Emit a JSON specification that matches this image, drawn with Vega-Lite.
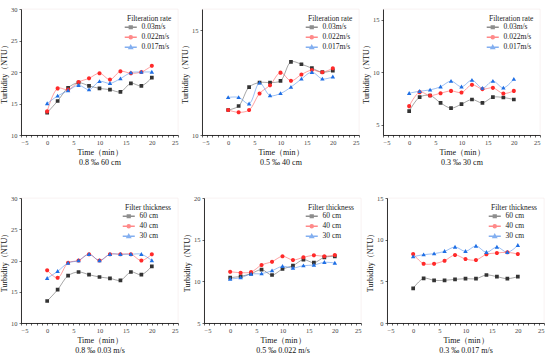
{
"$schema":"https://vega.github.io/schema/vega-lite/v6.json",
"padding":{"left":0,"top":5,"right":0,"bottom":0},
"background":"white",
"config":{
 "view":{"stroke":"#f3e8e8","strokeWidth":0.6},
 "font":"Liberation Serif",
 "axis":{"domainColor":"#000","domainWidth":0.8,"tickColor":"#000","tickWidth":0.6,"tickSize":2,"grid":false,"labelFont":"Liberation Serif","titleFont":"Liberation Serif","labelFontSize":6.5,"labelColor":"#444","titleFontSize":8,"titleFontWeight":"normal","titleColor":"#111","labelPadding":2},
 "axisX":{"titleLineHeight":10,"titlePadding":3},
 "axisY":{"titlePadding":2},
 "legend":{"orient":"top-right","offset":6,"titleFont":"Liberation Serif","labelFont":"Liberation Serif","titleFontSize":7.5,"titleFontWeight":"normal","labelFontSize":7.5,"labelColor":"#222","titleColor":"#222","symbolSize":30,"rowPadding":0,"labelOffset":7,"titlePadding":1,"padding":0}
},
"datasets":{
"p1":[
{"t":0,"s":"0.03m/s","v":13.55},{"t":2,"s":"0.03m/s","v":15.4},{"t":4,"s":"0.03m/s","v":17.5},{"t":6,"s":"0.03m/s","v":18.3},{"t":8,"s":"0.03m/s","v":17.8},{"t":10,"s":"0.03m/s","v":17.4},{"t":12,"s":"0.03m/s","v":17.2},{"t":14,"s":"0.03m/s","v":16.85},{"t":16,"s":"0.03m/s","v":18.2},{"t":18,"s":"0.03m/s","v":17.8},{"t":20,"s":"0.03m/s","v":19.1},
{"t":0,"s":"0.022m/s","v":13.75},{"t":2,"s":"0.022m/s","v":17.4},{"t":4,"s":"0.022m/s","v":17.2},{"t":6,"s":"0.022m/s","v":18.4},{"t":8,"s":"0.022m/s","v":19.0},{"t":10,"s":"0.022m/s","v":19.8},{"t":12,"s":"0.022m/s","v":18.8},{"t":14,"s":"0.022m/s","v":20.1},{"t":16,"s":"0.022m/s","v":19.8},{"t":18,"s":"0.022m/s","v":20.0},{"t":20,"s":"0.022m/s","v":21.0},
{"t":0,"s":"0.017m/s","v":15.0},{"t":2,"s":"0.017m/s","v":16.2},{"t":4,"s":"0.017m/s","v":17.05},{"t":6,"s":"0.017m/s","v":17.9},{"t":8,"s":"0.017m/s","v":17.2},{"t":10,"s":"0.017m/s","v":18.5},{"t":12,"s":"0.017m/s","v":18.2},{"t":14,"s":"0.017m/s","v":18.95},{"t":16,"s":"0.017m/s","v":19.9},{"t":18,"s":"0.017m/s","v":20.0},{"t":20,"s":"0.017m/s","v":20.0}
],
"p2":[
{"t":0,"s":"0.03m/s","v":11.19},{"t":2,"s":"0.03m/s","v":11.38},{"t":4,"s":"0.03m/s","v":12.28},{"t":6,"s":"0.03m/s","v":12.5},{"t":8,"s":"0.03m/s","v":12.5},{"t":10,"s":"0.03m/s","v":12.58},{"t":12,"s":"0.03m/s","v":13.48},{"t":14,"s":"0.03m/s","v":13.37},{"t":16,"s":"0.03m/s","v":13.18},{"t":18,"s":"0.03m/s","v":12.99},{"t":20,"s":"0.03m/s","v":13.07},
{"t":0,"s":"0.022m/s","v":11.19},{"t":2,"s":"0.022m/s","v":11.08},{"t":4,"s":"0.022m/s","v":11.19},{"t":6,"s":"0.022m/s","v":11.98},{"t":8,"s":"0.022m/s","v":12.37},{"t":10,"s":"0.022m/s","v":12.97},{"t":12,"s":"0.022m/s","v":12.58},{"t":14,"s":"0.022m/s","v":12.88},{"t":16,"s":"0.022m/s","v":13.09},{"t":18,"s":"0.022m/s","v":12.99},{"t":20,"s":"0.022m/s","v":13.18},
{"t":0,"s":"0.017m/s","v":11.79},{"t":2,"s":"0.017m/s","v":11.79},{"t":4,"s":"0.017m/s","v":11.49},{"t":6,"s":"0.017m/s","v":12.48},{"t":8,"s":"0.017m/s","v":11.88},{"t":10,"s":"0.017m/s","v":11.98},{"t":12,"s":"0.017m/s","v":12.28},{"t":14,"s":"0.017m/s","v":12.67},{"t":16,"s":"0.017m/s","v":12.99},{"t":18,"s":"0.017m/s","v":12.67},{"t":20,"s":"0.017m/s","v":12.77}
],
"p3":[
{"t":0,"s":"0.03m/s","v":6.27},{"t":2,"s":"0.03m/s","v":7.6},{"t":4,"s":"0.03m/s","v":7.76},{"t":6,"s":"0.03m/s","v":7.06},{"t":8,"s":"0.03m/s","v":6.56},{"t":10,"s":"0.03m/s","v":6.94},{"t":12,"s":"0.03m/s","v":7.38},{"t":14,"s":"0.03m/s","v":7.06},{"t":16,"s":"0.03m/s","v":7.6},{"t":18,"s":"0.03m/s","v":7.57},{"t":20,"s":"0.03m/s","v":7.38},
{"t":0,"s":"0.022m/s","v":6.75},{"t":2,"s":"0.022m/s","v":8.08},{"t":4,"s":"0.022m/s","v":7.76},{"t":6,"s":"0.022m/s","v":7.98},{"t":8,"s":"0.022m/s","v":8.2},{"t":10,"s":"0.022m/s","v":8.05},{"t":12,"s":"0.022m/s","v":8.78},{"t":14,"s":"0.022m/s","v":8.37},{"t":16,"s":"0.022m/s","v":8.49},{"t":18,"s":"0.022m/s","v":7.95},{"t":20,"s":"0.022m/s","v":8.2},
{"t":0,"s":"0.017m/s","v":7.98},{"t":2,"s":"0.017m/s","v":8.17},{"t":4,"s":"0.017m/s","v":8.3},{"t":6,"s":"0.017m/s","v":8.59},{"t":8,"s":"0.017m/s","v":9.13},{"t":10,"s":"0.017m/s","v":8.59},{"t":12,"s":"0.017m/s","v":9.22},{"t":14,"s":"0.017m/s","v":8.46},{"t":16,"s":"0.017m/s","v":9.13},{"t":18,"s":"0.017m/s","v":8.49},{"t":20,"s":"0.017m/s","v":9.32}
],
"p4":[
{"t":0,"s":"60 cm","v":13.52},{"t":2,"s":"60 cm","v":15.33},{"t":4,"s":"60 cm","v":17.57},{"t":6,"s":"60 cm","v":18.16},{"t":8,"s":"60 cm","v":17.73},{"t":10,"s":"60 cm","v":17.36},{"t":12,"s":"60 cm","v":17.15},{"t":14,"s":"60 cm","v":16.83},{"t":16,"s":"60 cm","v":18.16},{"t":18,"s":"60 cm","v":17.73},{"t":20,"s":"60 cm","v":19.07},
{"t":0,"s":"40 cm","v":18.45},{"t":2,"s":"40 cm","v":17.23},{"t":4,"s":"40 cm","v":19.63},{"t":6,"s":"40 cm","v":20.0},{"t":8,"s":"40 cm","v":21.0},{"t":10,"s":"40 cm","v":20.0},{"t":12,"s":"40 cm","v":21.0},{"t":14,"s":"40 cm","v":21.0},{"t":16,"s":"40 cm","v":21.0},{"t":18,"s":"40 cm","v":20.0},{"t":20,"s":"40 cm","v":21.0},
{"t":0,"s":"30 cm","v":17.15},{"t":2,"s":"30 cm","v":18.27},{"t":4,"s":"30 cm","v":19.6},{"t":6,"s":"30 cm","v":20.0},{"t":8,"s":"30 cm","v":21.0},{"t":10,"s":"30 cm","v":20.0},{"t":12,"s":"30 cm","v":21.0},{"t":14,"s":"30 cm","v":21.0},{"t":16,"s":"30 cm","v":21.0},{"t":18,"s":"30 cm","v":21.0},{"t":20,"s":"30 cm","v":20.0}
],
"p5":[
{"t":0,"s":"60 cm","v":10.44},{"t":2,"s":"60 cm","v":10.6},{"t":4,"s":"60 cm","v":10.92},{"t":6,"s":"60 cm","v":11.4},{"t":8,"s":"60 cm","v":10.76},{"t":10,"s":"60 cm","v":11.48},{"t":12,"s":"60 cm","v":11.88},{"t":14,"s":"60 cm","v":12.6},{"t":16,"s":"60 cm","v":12.24},{"t":18,"s":"60 cm","v":12.88},{"t":20,"s":"60 cm","v":13.0},
{"t":0,"s":"40 cm","v":11.16},{"t":2,"s":"40 cm","v":11.04},{"t":4,"s":"40 cm","v":11.12},{"t":6,"s":"40 cm","v":11.96},{"t":8,"s":"40 cm","v":12.36},{"t":10,"s":"40 cm","v":13.0},{"t":12,"s":"40 cm","v":12.56},{"t":14,"s":"40 cm","v":12.88},{"t":16,"s":"40 cm","v":13.12},{"t":18,"s":"40 cm","v":13.0},{"t":20,"s":"40 cm","v":13.16},
{"t":0,"s":"30 cm","v":10.28},{"t":2,"s":"30 cm","v":10.44},{"t":4,"s":"30 cm","v":10.88},{"t":6,"s":"30 cm","v":10.92},{"t":8,"s":"30 cm","v":11.28},{"t":10,"s":"30 cm","v":11.8},{"t":12,"s":"30 cm","v":11.6},{"t":14,"s":"30 cm","v":11.88},{"t":16,"s":"30 cm","v":11.96},{"t":18,"s":"30 cm","v":12.28},{"t":20,"s":"30 cm","v":12.2}
],
"p6":[
{"t":0,"s":"60 cm","v":4.16},{"t":2,"s":"60 cm","v":5.36},{"t":4,"s":"60 cm","v":5.12},{"t":6,"s":"60 cm","v":5.12},{"t":8,"s":"60 cm","v":5.24},{"t":10,"s":"60 cm","v":5.32},{"t":12,"s":"60 cm","v":5.32},{"t":14,"s":"60 cm","v":5.76},{"t":16,"s":"60 cm","v":5.56},{"t":18,"s":"60 cm","v":5.32},{"t":20,"s":"60 cm","v":5.56},
{"t":0,"s":"40 cm","v":8.28},{"t":2,"s":"40 cm","v":7.12},{"t":4,"s":"40 cm","v":7.12},{"t":6,"s":"40 cm","v":7.48},{"t":8,"s":"40 cm","v":8.16},{"t":10,"s":"40 cm","v":7.68},{"t":12,"s":"40 cm","v":7.56},{"t":14,"s":"40 cm","v":8.24},{"t":16,"s":"40 cm","v":8.4},{"t":18,"s":"40 cm","v":8.48},{"t":20,"s":"40 cm","v":8.28},
{"t":0,"s":"30 cm","v":7.96},{"t":2,"s":"30 cm","v":8.2},{"t":4,"s":"30 cm","v":8.32},{"t":6,"s":"30 cm","v":8.6},{"t":8,"s":"30 cm","v":9.12},{"t":10,"s":"30 cm","v":8.6},{"t":12,"s":"30 cm","v":9.24},{"t":14,"s":"30 cm","v":8.48},{"t":16,"s":"30 cm","v":9.12},{"t":18,"s":"30 cm","v":8.48},{"t":20,"s":"30 cm","v":9.32}
]
},
"bounds":"flush",
"spacing":189,
"resolve":{"scale":{"color":"independent","shape":"independent"},"legend":{"color":"independent","shape":"independent"}},
"vconcat":[
{"hconcat":[
 {"width":157,"height":126,"data":{"name":"p1"},
  "encoding":{"x":{"field":"t","type":"quantitative","scale":{"domain":[-5,25],"nice":false},"axis":{"values":[-5,-4,-3,-2,-1,0,1,2,3,4,5,6,7,8,9,10,11,12,13,14,15,16,17,18,19,20,21,22,23,24,25],"labelExpr":"datum.value % 5 === 0 ? datum.label : ''","title":["Time（min）","0.8 ‰   60 cm"]}},
   "y":{"field":"v","type":"quantitative","scale":{"domain":[10,30],"nice":false,"zero":false},"axis":{"values":[10,15,20,25,30],"title":"Turbidity（NTU）"}}},
  "layer":[
   {"mark":{"type":"line","interpolate":"catmull-rom","strokeWidth":0.8,"opacity":0.55},"encoding":{"color":{"field":"s","type":"nominal","scale":{"domain":["0.03m/s","0.022m/s","0.017m/s"],"range":["#333333","#ff2a2a","#1f6fe5"]}}}},
   {"mark":{"type":"point","filled":true,"size":55,"opacity":1},"encoding":{
     "color":{"field":"s","type":"nominal","scale":{"domain":["0.03m/s","0.022m/s","0.017m/s"],"range":["#333333","#ff2a2a","#1f6fe5"]},"legend":{"title":"Filteration rate","encode":{"symbols":{"update":{"stroke":{"signal":"indexof(['0.03m/s','60 cm'], datum.value) >= 0 ? '#777777' : indexof(['0.022m/s','40 cm'], datum.value) >= 0 ? '#ff6666' : '#5599ee'"},"strokeWidth":{"value":0.7}}}}}},
     "shape":{"field":"s","type":"nominal","scale":{"domain":["0.03m/s","0.022m/s","0.017m/s"],"range":["M-2.2,0H2.2M-0.5,-0.5H0.5V0.5H-0.5Z","M-2.2,0H2.2M0.55,0A0.55,0.55,0,1,1,-0.55,0A0.55,0.55,0,1,1,0.55,0Z","M-2.2,0H2.2M0,-0.6L0.6,0.45H-0.6Z"]},"legend":{"title":"Filteration rate"}}}}
  ]},
 {"width":157,"height":126,"data":{"name":"p2"},
  "encoding":{"x":{"field":"t","type":"quantitative","scale":{"domain":[-5,25],"nice":false},"axis":{"values":[-5,-4,-3,-2,-1,0,1,2,3,4,5,6,7,8,9,10,11,12,13,14,15,16,17,18,19,20,21,22,23,24,25],"labelExpr":"datum.value % 5 === 0 ? datum.label : ''","title":["Time（min）","0.5 ‰   40 cm"]}},
   "y":{"field":"v","type":"quantitative","scale":{"domain":[10,16],"nice":false,"zero":false},"axis":{"values":[10,15],"title":"Turbidity（NTU）"}}},
  "layer":[
   {"mark":{"type":"line","interpolate":"catmull-rom","strokeWidth":0.8,"opacity":0.55},"encoding":{"color":{"field":"s","type":"nominal","scale":{"domain":["0.03m/s","0.022m/s","0.017m/s"],"range":["#333333","#ff2a2a","#1f6fe5"]}}}},
   {"mark":{"type":"point","filled":true,"size":55,"opacity":1},"encoding":{
     "color":{"field":"s","type":"nominal","scale":{"domain":["0.03m/s","0.022m/s","0.017m/s"],"range":["#333333","#ff2a2a","#1f6fe5"]},"legend":{"title":"Filteration rate","encode":{"symbols":{"update":{"stroke":{"signal":"indexof(['0.03m/s','60 cm'], datum.value) >= 0 ? '#777777' : indexof(['0.022m/s','40 cm'], datum.value) >= 0 ? '#ff6666' : '#5599ee'"},"strokeWidth":{"value":0.7}}}}}},
     "shape":{"field":"s","type":"nominal","scale":{"domain":["0.03m/s","0.022m/s","0.017m/s"],"range":["M-2.2,0H2.2M-0.5,-0.5H0.5V0.5H-0.5Z","M-2.2,0H2.2M0.55,0A0.55,0.55,0,1,1,-0.55,0A0.55,0.55,0,1,1,0.55,0Z","M-2.2,0H2.2M0,-0.6L0.6,0.45H-0.6Z"]},"legend":{"title":"Filteration rate"}}}}
  ]},
 {"width":157,"height":126,"data":{"name":"p3"},
  "encoding":{"x":{"field":"t","type":"quantitative","scale":{"domain":[-5,25],"nice":false},"axis":{"values":[-5,-4,-3,-2,-1,0,1,2,3,4,5,6,7,8,9,10,11,12,13,14,15,16,17,18,19,20,21,22,23,24,25],"labelExpr":"datum.value % 5 === 0 ? datum.label : ''","title":["Time（min）","0.3 ‰   30 cm"]}},
   "y":{"field":"v","type":"quantitative","scale":{"domain":[4,16],"nice":false,"zero":false},"axis":{"values":[5,10,15],"title":"Turbidity（NTU）"}}},
  "layer":[
   {"mark":{"type":"line","interpolate":"catmull-rom","strokeWidth":0.8,"opacity":0.55},"encoding":{"color":{"field":"s","type":"nominal","scale":{"domain":["0.03m/s","0.022m/s","0.017m/s"],"range":["#333333","#ff2a2a","#1f6fe5"]}}}},
   {"mark":{"type":"point","filled":true,"size":55,"opacity":1},"encoding":{
     "color":{"field":"s","type":"nominal","scale":{"domain":["0.03m/s","0.022m/s","0.017m/s"],"range":["#333333","#ff2a2a","#1f6fe5"]},"legend":{"title":"Filteration rate","encode":{"symbols":{"update":{"stroke":{"signal":"indexof(['0.03m/s','60 cm'], datum.value) >= 0 ? '#777777' : indexof(['0.022m/s','40 cm'], datum.value) >= 0 ? '#ff6666' : '#5599ee'"},"strokeWidth":{"value":0.7}}}}}},
     "shape":{"field":"s","type":"nominal","scale":{"domain":["0.03m/s","0.022m/s","0.017m/s"],"range":["M-2.2,0H2.2M-0.5,-0.5H0.5V0.5H-0.5Z","M-2.2,0H2.2M0.55,0A0.55,0.55,0,1,1,-0.55,0A0.55,0.55,0,1,1,0.55,0Z","M-2.2,0H2.2M0,-0.6L0.6,0.45H-0.6Z"]},"legend":{"title":"Filteration rate"}}}}
  ]}
 ],
 "spacing":24,"bounds":"flush",
 "resolve":{"scale":{"color":"independent","shape":"independent"},"legend":{"color":"independent","shape":"independent"}}},
{"hconcat":[
 {"width":157,"height":125,"data":{"name":"p4"},
  "encoding":{"x":{"field":"t","type":"quantitative","scale":{"domain":[-5,25],"nice":false},"axis":{"values":[-5,-4,-3,-2,-1,0,1,2,3,4,5,6,7,8,9,10,11,12,13,14,15,16,17,18,19,20,21,22,23,24,25],"labelExpr":"datum.value % 5 === 0 ? datum.label : ''","title":["Time（min）","0.8 ‰   0.03 m/s"]}},
   "y":{"field":"v","type":"quantitative","scale":{"domain":[10,30],"nice":false,"zero":false},"axis":{"values":[10,15,20,25,30],"title":"Turbidity（NTU）"}}},
  "layer":[
   {"mark":{"type":"line","interpolate":"catmull-rom","strokeWidth":0.8,"opacity":0.55},"encoding":{"color":{"field":"s","type":"nominal","scale":{"domain":["60 cm","40 cm","30 cm"],"range":["#333333","#ff2a2a","#1f6fe5"]}}}},
   {"mark":{"type":"point","filled":true,"size":55,"opacity":1},"encoding":{
     "color":{"field":"s","type":"nominal","scale":{"domain":["60 cm","40 cm","30 cm"],"range":["#333333","#ff2a2a","#1f6fe5"]},"legend":{"title":"Filter thickness","encode":{"symbols":{"update":{"stroke":{"signal":"indexof(['0.03m/s','60 cm'], datum.value) >= 0 ? '#777777' : indexof(['0.022m/s','40 cm'], datum.value) >= 0 ? '#ff6666' : '#5599ee'"},"strokeWidth":{"value":0.7}}}}}},
     "shape":{"field":"s","type":"nominal","scale":{"domain":["60 cm","40 cm","30 cm"],"range":["M-2.2,0H2.2M-0.5,-0.5H0.5V0.5H-0.5Z","M-2.2,0H2.2M0.55,0A0.55,0.55,0,1,1,-0.55,0A0.55,0.55,0,1,1,0.55,0Z","M-2.2,0H2.2M0,-0.6L0.6,0.45H-0.6Z"]},"legend":{"title":"Filter thickness"}}}}
  ]},
 {"width":157,"height":125,"data":{"name":"p5"},
  "encoding":{"x":{"field":"t","type":"quantitative","scale":{"domain":[-5,25],"nice":false},"axis":{"values":[-5,-4,-3,-2,-1,0,1,2,3,4,5,6,7,8,9,10,11,12,13,14,15,16,17,18,19,20,21,22,23,24,25],"labelExpr":"datum.value % 5 === 0 ? datum.label : ''","title":["Time（min）","0.5 ‰   0.022 m/s"]}},
   "y":{"field":"v","type":"quantitative","scale":{"domain":[5,20],"nice":false,"zero":false},"axis":{"values":[5,10,15,20],"title":"Turbidity（NTU）"}}},
  "layer":[
   {"mark":{"type":"line","interpolate":"catmull-rom","strokeWidth":0.8,"opacity":0.55},"encoding":{"color":{"field":"s","type":"nominal","scale":{"domain":["60 cm","40 cm","30 cm"],"range":["#333333","#ff2a2a","#1f6fe5"]}}}},
   {"mark":{"type":"point","filled":true,"size":55,"opacity":1},"encoding":{
     "color":{"field":"s","type":"nominal","scale":{"domain":["60 cm","40 cm","30 cm"],"range":["#333333","#ff2a2a","#1f6fe5"]},"legend":{"title":"Filter thickness","encode":{"symbols":{"update":{"stroke":{"signal":"indexof(['0.03m/s','60 cm'], datum.value) >= 0 ? '#777777' : indexof(['0.022m/s','40 cm'], datum.value) >= 0 ? '#ff6666' : '#5599ee'"},"strokeWidth":{"value":0.7}}}}}},
     "shape":{"field":"s","type":"nominal","scale":{"domain":["60 cm","40 cm","30 cm"],"range":["M-2.2,0H2.2M-0.5,-0.5H0.5V0.5H-0.5Z","M-2.2,0H2.2M0.55,0A0.55,0.55,0,1,1,-0.55,0A0.55,0.55,0,1,1,0.55,0Z","M-2.2,0H2.2M0,-0.6L0.6,0.45H-0.6Z"]},"legend":{"title":"Filter thickness"}}}}
  ]},
 {"width":157,"height":125,"data":{"name":"p6"},
  "encoding":{"x":{"field":"t","type":"quantitative","scale":{"domain":[-5,25],"nice":false},"axis":{"values":[-5,-4,-3,-2,-1,0,1,2,3,4,5,6,7,8,9,10,11,12,13,14,15,16,17,18,19,20,21,22,23,24,25],"labelExpr":"datum.value % 5 === 0 ? datum.label : ''","title":["Time（min）","0.3 ‰   0.017 m/s"]}},
   "y":{"field":"v","type":"quantitative","scale":{"domain":[0,15],"nice":false,"zero":false},"axis":{"values":[0,5,10,15],"title":"Turbidity（NTU）"}}},
  "layer":[
   {"mark":{"type":"line","interpolate":"catmull-rom","strokeWidth":0.8,"opacity":0.55},"encoding":{"color":{"field":"s","type":"nominal","scale":{"domain":["60 cm","40 cm","30 cm"],"range":["#333333","#ff2a2a","#1f6fe5"]}}}},
   {"mark":{"type":"point","filled":true,"size":55,"opacity":1},"encoding":{
     "color":{"field":"s","type":"nominal","scale":{"domain":["60 cm","40 cm","30 cm"],"range":["#333333","#ff2a2a","#1f6fe5"]},"legend":{"title":"Filter thickness","encode":{"symbols":{"update":{"stroke":{"signal":"indexof(['0.03m/s','60 cm'], datum.value) >= 0 ? '#777777' : indexof(['0.022m/s','40 cm'], datum.value) >= 0 ? '#ff6666' : '#5599ee'"},"strokeWidth":{"value":0.7}}}}}},
     "shape":{"field":"s","type":"nominal","scale":{"domain":["60 cm","40 cm","30 cm"],"range":["M-2.2,0H2.2M-0.5,-0.5H0.5V0.5H-0.5Z","M-2.2,0H2.2M0.55,0A0.55,0.55,0,1,1,-0.55,0A0.55,0.55,0,1,1,0.55,0Z","M-2.2,0H2.2M0,-0.6L0.6,0.45H-0.6Z"]},"legend":{"title":"Filter thickness"}}}}
  ]}
 ],
 "spacing":26,"bounds":"flush",
 "resolve":{"scale":{"color":"independent","shape":"independent"},"legend":{"color":"independent","shape":"independent"}}}
]
}
